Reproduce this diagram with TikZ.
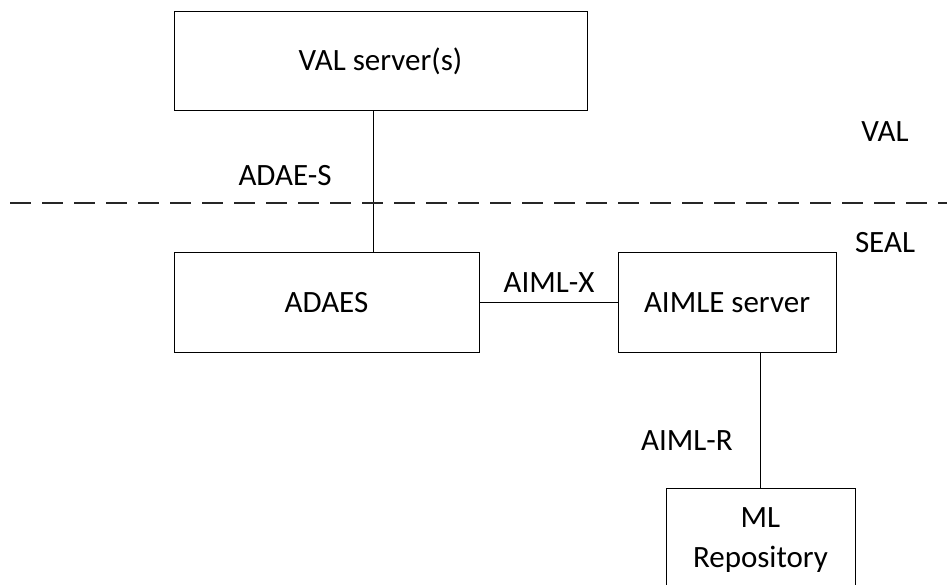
\documentclass[tikz,border=0pt]{standalone}
\usepackage{fontspec}
\setmainfont{Carlito}
\begin{document}
\begin{tikzpicture}[x=1pt,y=-1pt,
  box/.style={draw,line width=1pt,rectangle,inner sep=0pt,font=\fontsize{31}{40}\selectfont},
  lbl/.style={inner sep=0pt,font=\fontsize{31}{40}\selectfont},
  conn/.style={line width=1pt}]
\useasboundingbox (0,0) rectangle (947,585);
\clip (0,0) rectangle (947,585);
\node[box,minimum width=413pt,minimum height=99pt] (val) at (380.5,61.5) {VAL server(s)};
\node[box,minimum width=305pt,minimum height=99pt] (adaes) at (326.5,302.5) {ADAES};
\node[box,minimum width=218pt,minimum height=99pt] (aimle) at (727,302.5) {AIMLE server};
\node[box,minimum width=189pt,minimum height=104pt,align=center] (ml) at (760.5,540) {ML\\Repository};
\coordinate (vx) at (373,0);
\draw[conn] (val.south -| vx) -- (adaes.north -| vx);
\draw[conn] (adaes.east) -- (aimle.west);
\draw[conn] (aimle.south -| ml.north) -- (ml.north);
\coordinate (d1) at (10,203);
\coordinate (d2) at (947,203);
\draw[line width=1.4pt,color=black!85,dash pattern=on 21pt off 11pt] (d1) -- (d2);
\node[lbl] (adaesl) at (285,176) {ADAE-S};
\node[lbl] (aimlx) at (549,283) {AIML-X};
\node[lbl] (aimlr) at (687,441) {AIML-R};
\node[lbl] (vall) at (885,132) {VAL};
\node[lbl] (seall) at (885,243) {SEAL};
\end{tikzpicture}
\end{document}
